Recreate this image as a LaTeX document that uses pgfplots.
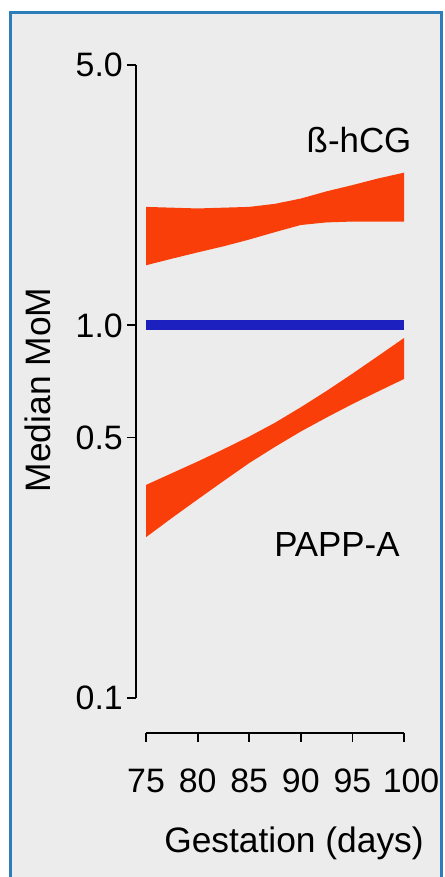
\documentclass[border=0pt]{standalone}
\usepackage{fontspec}
\setmainfont{Liberation Sans}
\usepackage{pgfplots}
\pgfplotsset{compat=1.18}
\definecolor{bandred}{RGB}{250,62,10}
\definecolor{lineblue}{RGB}{28,32,190}
\definecolor{panelgray}{RGB}{236,236,236}
\definecolor{frameblue}{RGB}{45,125,185}

\begin{document}
\begin{tikzpicture}
\useasboundingbox (0bp,0bp) rectangle (445bp,877bp);
\fill[white] (0bp,0bp) rectangle (445bp,877bp);
\filldraw[fill=panelgray, draw=frameblue, line width=3bp] (10.5bp,-10bp) rectangle (441.5bp,864.5bp);
\begin{axis}[
  at={(136bp,144bp)}, anchor=south west,
  scale only axis, width=274bp, height=668bp,
  ymode=log,
  xmin=74.03, xmax=100.58, ymin=0.0805, ymax=5,
  axis x line*=bottom, axis y line*=left,
  axis line style={draw=none},
  xtick={75,80,85,90,95,100}, xticklabels={75,80,85,90,95,\hspace*{14bp}100},
  ytick={0.1,0.5,1,5}, yticklabels={0.1,0.5,1.0,5.0},
  xminorticks=false, yminorticks=false,
  tick align=outside,
  major tick length=9bp,
  tick style={black, line width=1.8bp},
  ticklabel style={font=\fontsize{34}{34}\selectfont, inner sep=0pt},
  xticklabel style={anchor=north, yshift=-27bp},
  yticklabel style={anchor=east, xshift=-4bp},
  xlabel={Gestation (days)}, ylabel={Median MoM},
  label style={font=\fontsize{35.5}{36}\selectfont},
  x label style={at={(axis description cs:0.5766,-0.1647)}, anchor=center},
  y label style={at={(axis description cs:-0.3577,0.5135)}, anchor=center},
  clip=false,
]
% beta-hCG band: upper edge (75 -> 100), then lower edge (100 -> 75)
\addplot[fill=bandred, draw=none] coordinates {
 (75,2.08) (77.5,2.07) (80,2.06) (82.5,2.07) (85,2.08) (87.5,2.12)
 (90,2.19) (92.5,2.29) (95,2.38) (97.5,2.48) (100,2.57)
 (100,1.90) (97.5,1.90) (95,1.90) (92.5,1.89) (90,1.86) (87.5,1.78)
 (85,1.70) (82.5,1.63) (80,1.57) (77.5,1.51) (75,1.45)
} -- cycle;

% PAPP-A band: upper edge (75 -> 100), then lower edge (100 -> 75)
\addplot[fill=bandred, draw=none] coordinates {
 (75,0.373) (77.5,0.401) (80,0.431) (82.5,0.465) (85,0.503) (87.5,0.548)
 (90,0.603) (92.5,0.667) (95,0.742) (97.5,0.828) (100,0.925)
 (100,0.718) (97.5,0.665) (95,0.615) (92.5,0.566) (90,0.519) (87.5,0.472)
 (85,0.427) (82.5,0.382) (80,0.341) (77.5,0.304) (75,0.270)
} -- cycle;

\addplot[lineblue, line width=10bp] coordinates {(75,1) (100,1)};

\draw[black, line width=2bp] (axis cs:75,0.0805) -- (axis cs:100,0.0805);
\draw[black, line width=2.2bp] (axis cs:74.03,0.1) -- (axis cs:74.03,5);

\node[font=\fontsize{35}{35}\selectfont] at (axis cs:95.64,3.145) {ß-hCG};
\node[font=\fontsize{35}{35}\selectfont] at (axis cs:93.5,0.2574) {PAPP-A};
\end{axis}
\end{tikzpicture}
\end{document}
